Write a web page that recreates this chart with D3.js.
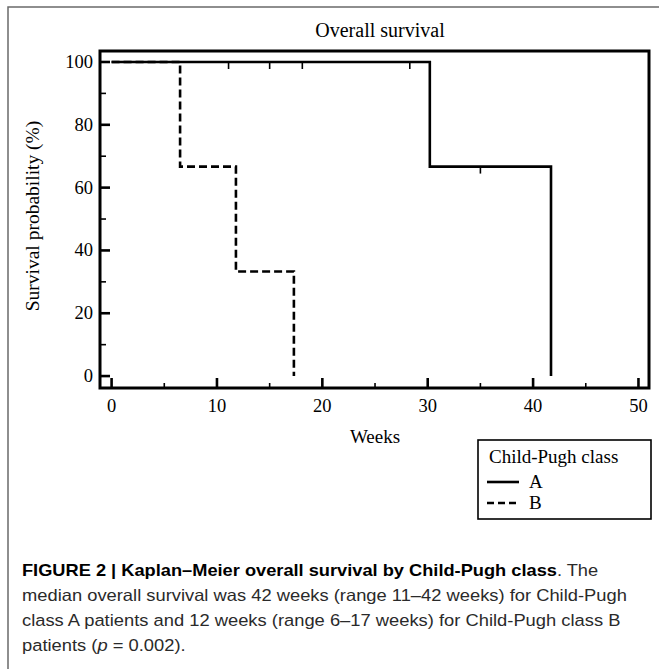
<!DOCTYPE html>
<html>
<head>
<meta charset="utf-8">
<script src="https://cdn.jsdelivr.net/npm/d3@7"></script>
<style>
html,body{margin:0;padding:0;background:#fff;}
svg{display:block;}
</style>
</head>
<body>
<svg id="chart" width="659" height="669"></svg>
<script>
// ---- data ----
const chartTitle = "Overall survival";
const xLabel = "Weeks";
const yLabel = "Survival probability (%)";
const legendTitle = "Child-Pugh class";
const seriesNames = ["A", "B"];
const timesA = [0, 30.2, 41.7];
const survA = [100, 66.7, 0];
const timesB = [0, 6.5, 11.8, 17.3];
const survB = [100, 66.7, 33.3, 0];
const censorTimesA = [11.1, 15.0, 18.1, 28.3, 35.0];
const censorSurvA = [100, 100, 100, 100, 66.7];
const xMajorTicks = [0, 10, 20, 30, 40, 50];
const xMinorTicks = [5, 15, 25, 35, 45];
const yMajorTicks = [0, 20, 40, 60, 80, 100];
const yMinorTicks = [10, 30, 50, 70, 90];
const captionLines = [
  [{t:"FIGURE 2 | Kaplan–Meier overall survival by Child-Pugh class", b:true},{t:". The"}],
  [{t:"median overall survival was 42 weeks (range 11–42 weeks) for Child-Pugh"}],
  [{t:"class A patients and 12 weeks (range 6–17 weeks) for Child-Pugh class B"}],
  [{t:"patients ("},{t:"p", i:true},{t:" = 0.002)."}]
];
const captionWidths = [577, 605, 599, null];

const svg = d3.select("#chart");
const serif = "'Liberation Serif','Times New Roman',serif";
const sans = "'Liberation Sans',Arial,sans-serif";

// outer frame
svg.append("rect").attr("x", 8).attr("y", 7).attr("width", 800).attr("height", 800)
  .attr("fill", "none").attr("stroke", "#6a6a6a").attr("stroke-width", 1.5);

const L = 100, R = 649, T = 51, B = 388;
const x = d3.scaleLinear().domain([-1.1, 51]).range([L, R]);
const y = d3.scaleLinear().domain([-3.8, 103.5]).range([B, T]);

// title
svg.append("text").attr("x", 380).attr("y", 37).attr("text-anchor", "middle")
  .attr("font-family", serif).attr("font-size", 20).text(chartTitle);

// curves
function stepPath(ts, ss) {
  const pts = [];
  for (let i = 0; i < ts.length; i++) {
    if (i > 0) pts.push([ts[i], ss[i - 1]]);
    pts.push([ts[i], ss[i]]);
  }
  return d3.line().x(d => x(d[0])).y(d => y(d[1]))(pts);
}
svg.append("path").attr("d", stepPath(timesA, survA)).attr("fill", "none")
  .attr("stroke", "#000").attr("stroke-width", 2.6);
svg.append("path").attr("d", stepPath(timesB, survB)).attr("fill", "none")
  .attr("stroke", "#000").attr("stroke-width", 2.6).attr("stroke-dasharray", "8,4");

// censor marks
svg.selectAll(".cens").data(censorTimesA.map((t, i) => [t, censorSurvA[i]])).enter()
  .append("line").attr("x1", d => x(d[0])).attr("x2", d => x(d[0]))
  .attr("y1", d => y(d[1])).attr("y2", d => y(d[1]) + 7)
  .attr("stroke", "#000").attr("stroke-width", 1.6);

// axes frame
svg.append("rect").attr("x", L).attr("y", T).attr("width", R - L).attr("height", B - T)
  .attr("fill", "none").attr("stroke", "#000").attr("stroke-width", 3);

// x ticks
const gx = svg.append("g");
gx.selectAll(".xM").data(xMajorTicks).enter().append("line")
  .attr("x1", d => x(d)).attr("x2", d => x(d)).attr("y1", B).attr("y2", B - 10)
  .attr("stroke", "#000").attr("stroke-width", 2.6);
gx.selectAll(".xm").data(xMinorTicks).enter().append("line")
  .attr("x1", d => x(d)).attr("x2", d => x(d)).attr("y1", B).attr("y2", B - 5)
  .attr("stroke", "#000").attr("stroke-width", 1.6);
gx.selectAll(".xl").data(xMajorTicks).enter().append("text")
  .attr("x", d => x(d)).attr("y", 412).attr("text-anchor", "middle")
  .attr("font-family", serif).attr("font-size", 18.5).text(d => d);

// y ticks
const gy = svg.append("g");
gy.selectAll(".yM").data(yMajorTicks).enter().append("line")
  .attr("x1", L).attr("x2", L + 10).attr("y1", d => y(d)).attr("y2", d => y(d))
  .attr("stroke", "#000").attr("stroke-width", 2.6);
gy.selectAll(".ym").data(yMinorTicks).enter().append("line")
  .attr("x1", L).attr("x2", L + 6).attr("y1", d => y(d)).attr("y2", d => y(d))
  .attr("stroke", "#000").attr("stroke-width", 1.6);
gy.selectAll(".yl").data(yMajorTicks).enter().append("text")
  .attr("x", 93).attr("y", d => y(d) + 6).attr("text-anchor", "end")
  .attr("font-family", serif).attr("font-size", 18.5).text(d => d);

// axis titles
svg.append("text").attr("x", 375).attr("y", 443).attr("text-anchor", "middle")
  .attr("font-family", serif).attr("font-size", 19).text(xLabel);
svg.append("text").attr("transform", "translate(39,216) rotate(-90)")
  .attr("text-anchor", "middle").attr("font-family", serif).attr("font-size", 19.5).text(yLabel);

// legend
const lg = svg.append("g");
lg.append("rect").attr("x", 478).attr("y", 440).attr("width", 173).attr("height", 79)
  .attr("fill", "#fff").attr("stroke", "#000").attr("stroke-width", 1.6);
lg.append("text").attr("x", 489).attr("y", 463).attr("font-family", serif)
  .attr("font-size", 19).text(legendTitle);
seriesNames.forEach((n, i) => {
  const yy = 482 + i * 21;
  lg.append("line").attr("x1", 487).attr("x2", 519).attr("y1", yy).attr("y2", yy)
    .attr("stroke", "#000").attr("stroke-width", 2.6)
    .attr("stroke-dasharray", i === 1 ? "7,4" : null);
  lg.append("text").attr("x", 529).attr("y", yy + 6).attr("font-family", serif)
    .attr("font-size", 19).text(n);
});

// caption
const capG = svg.append("g");
let lastScale = 1;
captionLines.forEach((parts, i) => {
  const by = 576 + i * 25;
  const t = capG.append("text").attr("x", 22).attr("y", by)
    .attr("font-family", sans).attr("font-size", 16.5).attr("fill", "#2a2a2a");
  parts.forEach(p => {
    const ts = t.append("tspan").text(p.t);
    if (p.b) ts.attr("font-weight", "bold").attr("fill", "#000");
    if (p.i) ts.attr("font-style", "italic");
  });
  const w = t.node().getComputedTextLength();
  let s = captionWidths[i] ? captionWidths[i] / w : lastScale;
  if (captionWidths[i]) lastScale = s;
  t.attr("transform", "translate(22," + by + ") scale(" + s + ",1) translate(-22," + (-by) + ")");
});
</script>
</body>
</html>
